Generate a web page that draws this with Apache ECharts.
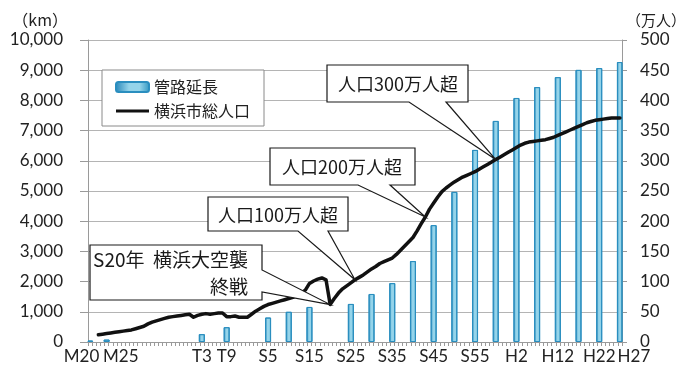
<!DOCTYPE html>
<html>
<head>
<meta charset="utf-8">
<script src="https://cdn.jsdelivr.net/npm/echarts@6/dist/echarts.min.js"></script>
<style>
  html, body { margin: 0; padding: 0; background: #fff; }
  #chart { width: 696px; height: 369px; }
</style>
</head>
<body>
<div id="chart"></div>
<script>
// Yearly category axis, Meiji 20 (1887) to Heisei 27 (2015)
const firstYear = 1887;
const lastYear = 2015;

// Era tick labels shown under the axis
const tickLabelYears = [1887, 1892, 1914, 1920, 1930, 1940, 1950, 1960, 1970, 1980, 1990, 2000, 2010, 2015];
const tickLabelTexts = ['M20', 'M25', 'T3', 'T9', 'S5', 'S15', 'S25', 'S35', 'S45', 'S55', 'H2', 'H12', 'H22', 'H27'];

// Sewer pipe length (km)
const pipeYears = [1887, 1891, 1914, 1920, 1930, 1935, 1940, 1950, 1955, 1960, 1965, 1970, 1975, 1980, 1985, 1990, 1995, 2000, 2005, 2010, 2015];
const pipeLengthKm = [50, 80, 260, 490, 810, 1000, 1160, 1260, 1590, 1950, 2680, 3870, 4970, 6360, 7320, 8080, 8440, 8770, 9010, 9070, 9270];

// Yokohama city population (10,000 persons), yearly from 1889
const popFirstYear = 1889;
const population = [
  12, 13, 14, 15, 16, 17, 18, 19, 20, 22, 24,          // 1889-1899
  26, 30, 33, 35, 37, 39, 41, 42, 43, 44,              // 1900-
  45, 46, 41, 44, 46, 47, 46, 47, 48, 48,              // 1910-
  42, 42, 43, 41, 41, 41, 46, 51, 55, 59,              // 1920-
  62, 64, 66, 68, 70, 72, 74, 77, 80, 86,              // 1930-
  97, 101, 104, 106, 103, 62, 72, 81, 88, 93,          // 1940-
  98, 103, 107, 111, 116, 121, 125, 130, 133, 136,     // 1950-
  139, 145, 152, 159, 166, 173, 184, 196, 207, 220,    // 1960-
  230, 240, 249, 255, 260, 265, 269, 273, 276, 279,    // 1970-
  282, 286, 290, 294, 298, 302, 306, 310, 314, 318,    // 1980-
  322, 326, 329, 331, 332, 333, 334, 335, 337, 339,    // 1990-
  342, 345, 348, 351, 354, 357, 360, 363, 365, 367,    // 2000-
  368, 369, 370, 371, 371, 371                          // 2010-2015
];

// Callout notes: text, year the pointer targets on the population line
const noteTexts = ['S20年  横浜大空襲\n終戦', '人口100万人超', '人口200万人超', '人口300万人超'];
const noteYears = [1945, 1951, 1968, 1985];

// ---- build series arrays on the category axis ----
const years = [];
for (let y = firstYear; y <= lastYear; y++) years.push(String(y));

const pipeSeries = years.map(() => '-');
pipeYears.forEach((y, i) => { pipeSeries[y - firstYear] = pipeLengthKm[i]; });

const popSeries = years.map(() => '-');
population.forEach((v, i) => { popSeries[popFirstYear - firstYear + i] = v; });

const labelMap = {};
tickLabelYears.forEach((y, i) => { labelMap[String(y)] = tickLabelTexts[i]; });

const NUM_FONT = 'Lato, "Liberation Sans", sans-serif';
const JP_FONT = '"Noto Sans CJK JP", sans-serif';
const GRID_COLOR = '#b4b4b4';
const TEXT_COLOR = '#222';

const chart = echarts.init(document.getElementById('chart'), null, { renderer: 'canvas' });

const labelRich = {
  c: { fontFamily: NUM_FONT, fontSize: 17, color: TEXT_COLOR },
  l: { fontFamily: NUM_FONT, fontSize: 17, color: TEXT_COLOR, padding: [0, 17, 0, 0] },
  r: { fontFamily: NUM_FONT, fontSize: 17, color: TEXT_COLOR, padding: [0, 0, 0, 20] },
  rr: { fontFamily: NUM_FONT, fontSize: 17, color: TEXT_COLOR, padding: [0, 0, 0, 28] }
};
const labelStyleKey = { 'M20': 'l', 'M25': 'r', 'H27': 'rr' };

// thin horizontal stroke inside a 33x10 legend cell
const lineIcon = 'path://M0,0L0.01,0L0,0ZM0,10L0.01,10L0,10ZM0,3.6L33,3.6L33,6.6L0,6.6Z';

chart.setOption({
  backgroundColor: '#fff',
  animation: false,
  grid: { left: 88, right: 74, top: 40, bottom: 27, outerBoundsMode: 'none' },
  legend: {
    orient: 'vertical',
    left: 102,
    top: 70,
    backgroundColor: '#fff',
    borderColor: '#8a8a8a',
    borderWidth: 1,
    borderRadius: 0,
    padding: [9, 14, 7, 13],
    itemGap: 8,
    itemWidth: 33,
    itemHeight: 10,
    textStyle: { fontFamily: JP_FONT, fontSize: 16, color: TEXT_COLOR },
    data: [
      { name: '管路延長' },
      { name: '横浜市総人口', icon: lineIcon, itemStyle: { color: '#111', borderWidth: 0 } }
    ]
  },
  xAxis: {
    type: 'category',
    data: years,
    boundaryGap: true,
    axisLine: { lineStyle: { color: '#9a9a9a', width: 1 } },
    axisTick: { show: true, interval: 0, length: 4, lineStyle: { color: '#9a9a9a' } },
    axisLabel: {
      interval: (index, value) => labelMap[value] !== undefined,
      hideOverlap: false,
      margin: 6,
      fontFamily: NUM_FONT,
      fontSize: 17,
      color: TEXT_COLOR,
      formatter: (value) => {
        const t = labelMap[value] || '';
        return '{' + (labelStyleKey[t] || 'c') + '|' + t + '}';
      },
      rich: labelRich
    },
    splitLine: { show: false }
  },
  yAxis: [
    {
      type: 'value',
      min: 0,
      max: 10000,
      interval: 1000,
      name: '（km）',
      nameLocation: 'end',
      nameGap: 12,
      nameTextStyle: { fontFamily: JP_FONT, fontSize: 16, color: TEXT_COLOR, align: 'right', padding: [0, 20, 0, 0] },
      axisLine: { show: true, lineStyle: { color: '#9a9a9a' } },
      axisTick: { show: true, length: 8, lineStyle: { color: '#9a9a9a' } },
      axisLabel: {
        margin: 25,
        fontFamily: NUM_FONT,
        fontSize: 17,
        color: TEXT_COLOR,
        formatter: (v) => v.toLocaleString('en-US')
      },
      splitLine: { show: true, lineStyle: { color: GRID_COLOR, width: 1 } }
    },
    {
      type: 'value',
      min: 0,
      max: 500,
      interval: 50,
      position: 'right',
      name: '（万人）',
      nameLocation: 'end',
      nameGap: 12,
      nameTextStyle: { fontFamily: JP_FONT, fontSize: 15, color: TEXT_COLOR, align: 'left', padding: [0, 0, 0, 4] },
      axisLine: { show: true, lineStyle: { color: '#9a9a9a' } },
      axisTick: { show: true, length: 5, lineStyle: { color: '#9a9a9a' } },
      axisLabel: {
        margin: 18,
        fontFamily: NUM_FONT,
        fontSize: 17,
        color: TEXT_COLOR
      },
      splitLine: { show: false }
    }
  ],
  series: [
    {
      name: '管路延長',
      type: 'bar',
      yAxisIndex: 0,
      data: pipeSeries,
      barWidth: 6,
      barGap: '-100%',
      itemStyle: {
        color: new echarts.graphic.LinearGradient(0, 0, 1, 0, [
          { offset: 0, color: '#2585b8' },
          { offset: 0.4, color: '#95d4ea' },
          { offset: 0.7, color: '#95d4ea' },
          { offset: 1, color: '#2e95c0' }
        ]),
        borderColor: '#2a8ebf',
        borderWidth: 1
      },
      z: 2
    },
    {
      name: '横浜市総人口',
      type: 'line',
      yAxisIndex: 1,
      data: popSeries,
      symbol: 'none',
      connectNulls: false,
      lineStyle: { color: '#111', width: 3.5, cap: 'round', join: 'round' },
      itemStyle: { color: '#111' },
      z: 3
    }
  ]
});

// ---- callout boxes pointing at the population line ----
// box: [x0, y0, x1, y1]; wedge: side and the two base coordinates along that side
const noteBoxes = [
  { box: [90, 245, 262, 300], side: 'right', base: [270, 292], textX: 248, textY: 273, align: 'right', size: 19, lh: 27 },
  { box: [208, 197, 348, 231], side: 'bottom', base: [298, 328], textX: 278, textY: 215, align: 'center', size: 18, lh: 22 },
  { box: [270, 148, 415, 185], side: 'bottom', base: [358, 390], textX: 342, textY: 167, align: 'center', size: 18, lh: 22 },
  { box: [327, 65, 468, 102], side: 'bottom', base: [409, 446], textX: 398, textY: 84, align: 'center', size: 18, lh: 22 }
];

function drawNotes() {
  const elements = [];
  noteBoxes.forEach((n, i) => {
    const yr = noteYears[i];
    const val = popSeries[yr - firstYear];
    const tip = chart.convertToPixel({ xAxisIndex: 0, yAxisIndex: 1 }, [String(yr), val]);
    const [x0, y0, x1, y1] = n.box;
    let pts;
    if (n.side === 'bottom') {
      pts = [[x0, y0], [x1, y0], [x1, y1], [n.base[1], y1], tip, [n.base[0], y1], [x0, y1]];
    } else {
      pts = [[x0, y0], [x1, y0], [x1, n.base[0]], tip, [x1, n.base[1]], [x1, y1], [x0, y1]];
    }
    elements.push({
      type: 'polygon',
      z: 100,
      shape: { points: pts },
      style: { fill: '#fff', stroke: '#1a1a1a', lineWidth: 1.2, lineJoin: 'miter' }
    });
    elements.push({
      type: 'text',
      z: 101,
      x: n.textX,
      y: n.textY,
      style: {
        text: noteTexts[i],
        fill: '#1a1a1a',
        fontFamily: JP_FONT,
        fontSize: n.size,
        lineHeight: n.lh,
        align: n.align,
        verticalAlign: 'middle'
      }
    });
  });
  chart.setOption({ graphic: { elements } });
}
drawNotes();
</script>
</body>
</html>
